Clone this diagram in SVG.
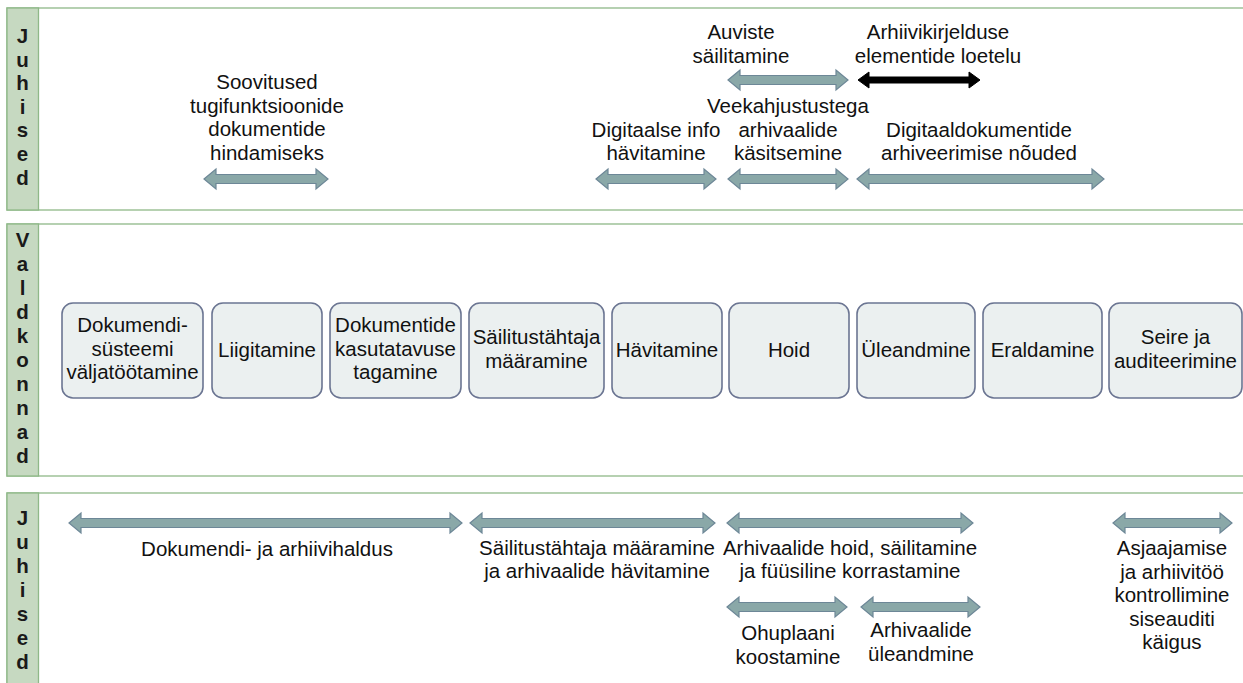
<svg xmlns="http://www.w3.org/2000/svg" width="1243" height="683" viewBox="0 0 1243 683">
<style>
.band{fill:#ffffff;stroke:#8fb888;stroke-width:1.3}
.lab{fill:#c6d9c1;stroke:#8fb888;stroke-width:1.3}
.lt{font-family:"Liberation Sans",Arial,sans-serif;font-size:20.5px;font-weight:bold;fill:#1a1a1a;text-anchor:middle}
.t{font-family:"Liberation Sans",Arial,sans-serif;font-size:20.5px;fill:#111111;text-anchor:middle}
.box{fill:#ebf0f0;stroke:#6b7592;stroke-width:1.6}
.arr{fill:#8aa8a8;stroke:#6d8797;stroke-width:1.2}
.blk{fill:#000000;stroke:#000000;stroke-width:1}
</style>
<rect width="1243" height="683" fill="#ffffff"/>
<g id="band-juhised-top">
<rect class="band" x="7" y="8" width="1250" height="202"/>
<rect class="lab" x="7" y="8" width="31.5" height="202"/>
<text class="lt" x="22.5" y="43">J</text>
<text class="lt" x="22.5" y="66.6">u</text>
<text class="lt" x="22.5" y="90.2">h</text>
<text class="lt" x="22.5" y="113.8">i</text>
<text class="lt" x="22.5" y="137.4">s</text>
<text class="lt" x="22.5" y="161">e</text>
<text class="lt" x="22.5" y="184.6">d</text>
</g>
<g id="band-valdkonnad">
<rect class="band" x="7" y="224" width="1250" height="252"/>
<rect class="lab" x="7" y="224" width="31.5" height="252"/>
<text class="lt" x="22.5" y="247">V</text>
<text class="lt" x="22.5" y="271">a</text>
<text class="lt" x="22.5" y="295">l</text>
<text class="lt" x="22.5" y="319">d</text>
<text class="lt" x="22.5" y="343">k</text>
<text class="lt" x="22.5" y="367">o</text>
<text class="lt" x="22.5" y="391">n</text>
<text class="lt" x="22.5" y="415">n</text>
<text class="lt" x="22.5" y="439">a</text>
<text class="lt" x="22.5" y="463">d</text>
</g>
<g id="band-juhised-bottom">
<rect class="band" x="7" y="493" width="1250" height="200"/>
<rect class="lab" x="7" y="493" width="31.5" height="200"/>
<text class="lt" x="22.5" y="525">J</text>
<text class="lt" x="22.5" y="549">u</text>
<text class="lt" x="22.5" y="573">h</text>
<text class="lt" x="22.5" y="597">i</text>
<text class="lt" x="22.5" y="621">s</text>
<text class="lt" x="22.5" y="645">e</text>
<text class="lt" x="22.5" y="669">d</text>
</g>
<g id="node-dokumendisysteem">
<rect class="box" x="62" y="303" width="141" height="95" rx="11"/>
<text class="t" x="132.5" y="332">Dokumendi-</text>
<text class="t" x="132.5" y="355.5">süsteemi</text>
<text class="t" x="132.5" y="379">väljatöötamine</text>
</g>
<g id="node-liigitamine">
<rect class="box" x="212" y="303" width="110" height="95" rx="11"/>
<text class="t" x="267" y="357">Liigitamine</text>
</g>
<g id="node-kasutatavus">
<rect class="box" x="330" y="303" width="131" height="95" rx="11"/>
<text class="t" x="395.5" y="332">Dokumentide</text>
<text class="t" x="395.5" y="355.5">kasutatavuse</text>
<text class="t" x="395.5" y="379">tagamine</text>
</g>
<g id="node-sailitustahtaja">
<rect class="box" x="469" y="303" width="135" height="95" rx="11"/>
<text class="t" x="536.5" y="344">Säilitustähtaja</text>
<text class="t" x="536.5" y="367.5">määramine</text>
</g>
<g id="node-havitamine">
<rect class="box" x="612" y="303" width="110" height="95" rx="11"/>
<text class="t" x="667" y="357">Hävitamine</text>
</g>
<g id="node-hoid">
<rect class="box" x="729" y="303" width="120" height="95" rx="11"/>
<text class="t" x="789" y="357">Hoid</text>
</g>
<g id="node-uleandmine">
<rect class="box" x="857" y="303" width="118" height="95" rx="11"/>
<text class="t" x="916" y="357">Üleandmine</text>
</g>
<g id="node-eraldamine">
<rect class="box" x="983" y="303" width="119" height="95" rx="11"/>
<text class="t" x="1042.5" y="357">Eraldamine</text>
</g>
<g id="node-seire">
<rect class="box" x="1109" y="303" width="133" height="95" rx="11"/>
<text class="t" x="1175.5" y="344">Seire ja</text>
<text class="t" x="1175.5" y="367.5">auditeerimine</text>
</g>
<g id="labels-top">
<text class="t" x="267" y="89">Soovitused</text>
<text class="t" x="267" y="112.5">tugifunktsioonide</text>
<text class="t" x="267" y="136">dokumentide</text>
<text class="t" x="267" y="159.5">hindamiseks</text>
<text class="t" x="741" y="39">Auviste</text>
<text class="t" x="741" y="62.5">säilitamine</text>
<text class="t" x="938" y="39">Arhiivikirjelduse</text>
<text class="t" x="938" y="62.5">elementide loetelu</text>
<text class="t" x="788" y="113">Veekahjustustega</text>
<text class="t" x="788" y="136.5">arhivaalide</text>
<text class="t" x="788" y="160">käsitsemine</text>
<text class="t" x="656" y="136.5">Digitaalse info</text>
<text class="t" x="656" y="160">hävitamine</text>
<text class="t" x="979" y="136.5">Digitaaldokumentide</text>
<text class="t" x="979" y="160">arhiveerimise nõuded</text>
</g>
<g id="labels-bottom">
<text class="t" x="267" y="556">Dokumendi- ja arhiivihaldus</text>
<text class="t" x="597" y="555">Säilitustähtaja määramine</text>
<text class="t" x="597" y="577.5">ja arhivaalide hävitamine</text>
<text class="t" x="850" y="555">Arhivaalide hoid, säilitamine</text>
<text class="t" x="850" y="577.5">ja füüsiline korrastamine</text>
<text class="t" x="788" y="640">Ohuplaani</text>
<text class="t" x="788" y="664">koostamine</text>
<text class="t" x="921" y="637">Arhivaalide</text>
<text class="t" x="921" y="660.5">üleandmine</text>
<text class="t" x="1172" y="555">Asjaajamise</text>
<text class="t" x="1172" y="578.5">ja arhiivitöö</text>
<text class="t" x="1172" y="602">kontrollimine</text>
<text class="t" x="1172" y="625.5">siseauditi</text>
<text class="t" x="1172" y="649">käigus</text>
</g>
<g id="connectors">
<path class="arr" d="M204,179 L216,169 L216,174.5 L316,174.5 L316,169 L328,179 L316,189 L316,183.5 L216,183.5 L216,189 Z"/>
<path class="arr" d="M596,179 L608,169 L608,174.5 L704,174.5 L704,169 L716,179 L704,189 L704,183.5 L608,183.5 L608,189 Z"/>
<path class="arr" d="M728,179 L740,169 L740,174.5 L836,174.5 L836,169 L848,179 L836,189 L836,183.5 L740,183.5 L740,189 Z"/>
<path class="arr" d="M857,179 L869,169 L869,174.5 L1092,174.5 L1092,169 L1104,179 L1092,189 L1092,183.5 L869,183.5 L869,189 Z"/>
<path class="arr" d="M728,80 L740,70 L740,75.5 L836,75.5 L836,70 L848,80 L836,90 L836,84.5 L740,84.5 L740,90 Z"/>
<path class="blk" d="M858,80 L869,72 L869,77 L969,77 L969,72 L980,80 L969,88 L969,83 L869,83 L869,88 Z"/>
<path class="arr" d="M69,523 L81,513 L81,518.5 L450,518.5 L450,513 L462,523 L450,533 L450,527.5 L81,527.5 L81,533 Z"/>
<path class="arr" d="M470,523 L482,513 L482,518.5 L703,518.5 L703,513 L715,523 L703,533 L703,527.5 L482,527.5 L482,533 Z"/>
<path class="arr" d="M727,523 L739,513 L739,518.5 L961,518.5 L961,513 L973,523 L961,533 L961,527.5 L739,527.5 L739,533 Z"/>
<path class="arr" d="M727,607 L739,597 L739,602.5 L835,602.5 L835,597 L847,607 L835,617 L835,611.5 L739,611.5 L739,617 Z"/>
<path class="arr" d="M861,607 L873,597 L873,602.5 L968,602.5 L968,597 L980,607 L968,617 L968,611.5 L873,611.5 L873,617 Z"/>
<path class="arr" d="M1113,523 L1125,513 L1125,518.5 L1220,518.5 L1220,513 L1232,523 L1220,533 L1220,527.5 L1125,527.5 L1125,533 Z"/>
</g>
</svg>
